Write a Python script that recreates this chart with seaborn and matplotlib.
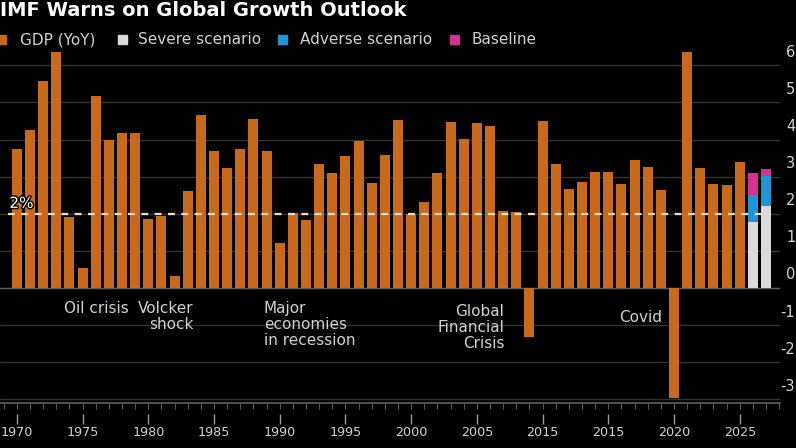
import numpy as np
import pandas as pd
import matplotlib
matplotlib.use('Agg')
import matplotlib.pyplot as plt
import matplotlib.transforms as mtransforms
import matplotlib.patheffects as pe
from matplotlib.patches import Rectangle
from matplotlib.ticker import MultipleLocator
import seaborn as sns

# ---- data ----
years = list(range(1970, 2026))
gdp = [3.74, 4.26, 5.58, 6.37, 1.92, 0.54, 5.18, 4.00, 4.17, 4.19,
       1.87, 1.93, 0.33, 2.62, 4.66, 3.69, 3.23, 3.75, 4.55, 3.69,
       1.20, 2.01, 1.82, 3.33, 3.11, 3.57, 3.95, 2.84, 3.58, 4.53,
       1.99, 2.31, 3.09, 4.47, 4.01, 4.46, 4.37, 2.08, 2.05, -1.33,
       4.50, 3.33, 2.68, 2.86, 3.13, 3.13, 2.79, 3.45, 3.26, 2.65,
       -2.97, 6.37, 3.23, 2.81, 2.78, 3.39]

scen_years = [2026, 2027]
severe   = [1.79, 2.22]
adverse  = [2.51, 3.02]
baseline = [3.11, 3.20]

tick_years  = [1970, 1975, 1980, 1985, 1990, 1995, 2000, 2005, 2010, 2015, 2020, 2025]
tick_labels = ['1970', '1975', '1980', '1985', '1990', '1995', '2000', '2005',
               '2015', '2015', '2020', '2025']
y_ticks = [-3, -2, -1, 0, 1, 2, 3, 4, 5, 6]

legend_labels = ['GDP (YoY)', 'Severe scenario', 'Adverse scenario', 'Baseline']
event_labels = ['Oil crisis', 'Volcker\nshock', 'Major\neconomies\nin recession',
                'Global\nFinancial\nCrisis', 'Covid']

# ---- style ----
c_gdp = '#c8691c'
c_sev = '#dadada'
c_adv = '#1e96d6'
c_base = '#d4338f'
c_txt = '#d2d2d2'

sns.set_theme(style='dark', rc={'axes.facecolor': 'black', 'figure.facecolor': 'black'})
plt.rcParams['font.family'] = ['DejaVu Sans']

W, H = 796, 448
fig = plt.figure(figsize=(W/100, H/100), dpi=100)
ax_top, ax_bot = 48.7, 403
ax = fig.add_axes([0, 1 - ax_bot/H, 780/W, (ax_bot - ax_top)/H])
ax.set_facecolor('black')

df = pd.DataFrame({'year': years, 'gdp': gdp})
sdf = pd.DataFrame({'year': scen_years, 'severe': severe,
                    'adverse': adverse, 'baseline': baseline})

sns.barplot(data=df, x='year', y='gdp', native_scale=True, color=c_gdp,
            saturation=1, width=0.76, errorbar=None, linewidth=0, ax=ax, zorder=2)
# scenario bars drawn over each other: baseline behind, severe in front
for col, c in [('baseline', c_base), ('adverse', c_adv), ('severe', c_sev)]:
    sns.barplot(data=sdf, x='year', y=col, native_scale=True, color=c,
                saturation=1, width=0.76, errorbar=None, linewidth=0, ax=ax, zorder=2)

ax.set_xlim(1968.72, 2028.06)
ax.set_ylim(-3.1, 6.45)
ax.set_xlabel('')
ax.set_ylabel('')

# grid
ax.set_yticks(y_ticks)
ax.grid(axis='y', color='#333333', lw=1)
ax.grid(axis='x', visible=False)
ax.tick_params(axis='y', left=False, right=False, labelleft=False, labelright=False)
ax.axhline(0, color='#5c5c5c', lw=1, zorder=1.5)
ax.axhline(2, xmin=8/780, xmax=770/780, color='#e8ddd0', lw=1.6,
           ls=(0, (3.1, 2.9)), zorder=3)

# y labels (right edge, sitting above the gridlines)
ytr = mtransforms.offset_copy(
    mtransforms.blended_transform_factory(fig.transFigure, ax.transData),
    fig=fig, y=9.4, units='points')
for v in y_ticks:
    ax.text(0.999, v, str(v), transform=ytr, ha='right', va='center',
            fontsize=10.5, color=c_txt, clip_on=False)

# 2% label
ltr = mtransforms.offset_copy(
    mtransforms.blended_transform_factory(ax.transAxes, ax.transData),
    fig=fig, y=7.5, units='points')
ax.text(0.012, 2, '2%', transform=ltr, ha='left', va='center', fontsize=11,
        color='white', path_effects=[pe.withStroke(linewidth=2, foreground='black')])

# x axis: year minor ticks on spine, labelled ticks detached below
for s in ['top', 'left', 'right']:
    ax.spines[s].set_visible(False)
ax.spines['bottom'].set_color('#5a5a5a')
ax.set_xticks([])
ax.xaxis.set_minor_locator(MultipleLocator(1))
ax.tick_params(axis='x', which='minor', bottom=True, length=4, width=0.8, color='#5a5a5a')

sec = ax.secondary_xaxis(-0.031)
sec.set_xticks(tick_years, labels=tick_labels)
sec.spines['bottom'].set_visible(False)
sec.tick_params(axis='x', length=7, width=1, color='#9a9a9a', labelsize=9.2,
                labelcolor=c_txt, pad=2)

# event annotations
kw = dict(fontsize=11, color=c_txt, va='top', linespacing=1.08)
ax.text(1978.5, -0.36, event_labels[0], ha='right', **kw)
ax.text(1983.45, -0.36, event_labels[1], ha='right', multialignment='right', **kw)
ax.text(1988.8, -0.36, event_labels[2], ha='left', **kw)
ax.text(2007.1, -0.44, event_labels[3], ha='right', multialignment='right', **kw)
ax.text(2019.1, -0.6, event_labels[4], ha='right', **kw)

# title
fig.text(0.0, 1 - 1/H, 'IMF Warns on Global Growth Outlook', fontsize=14,
         fontweight='bold', color='white', va='top', ha='left')

# legend
leg_sq = [-3, 118, 278, 450]
leg_tx = [20, 138, 300, 471]
for lab, c, sx, tx in zip(legend_labels, [c_gdp, c_sev, c_adv, c_base], leg_sq, leg_tx):
    fig.patches.append(Rectangle((sx/W, 1 - 44.5/H), 9/W, 9/H, transform=fig.transFigure,
                                 color=c, figure=fig))
    fig.text(tx/W, 1 - 40/H, lab, fontsize=11, color=c_txt, va='center', ha='left')

fig.savefig('out.png', dpi=100, facecolor='black')
